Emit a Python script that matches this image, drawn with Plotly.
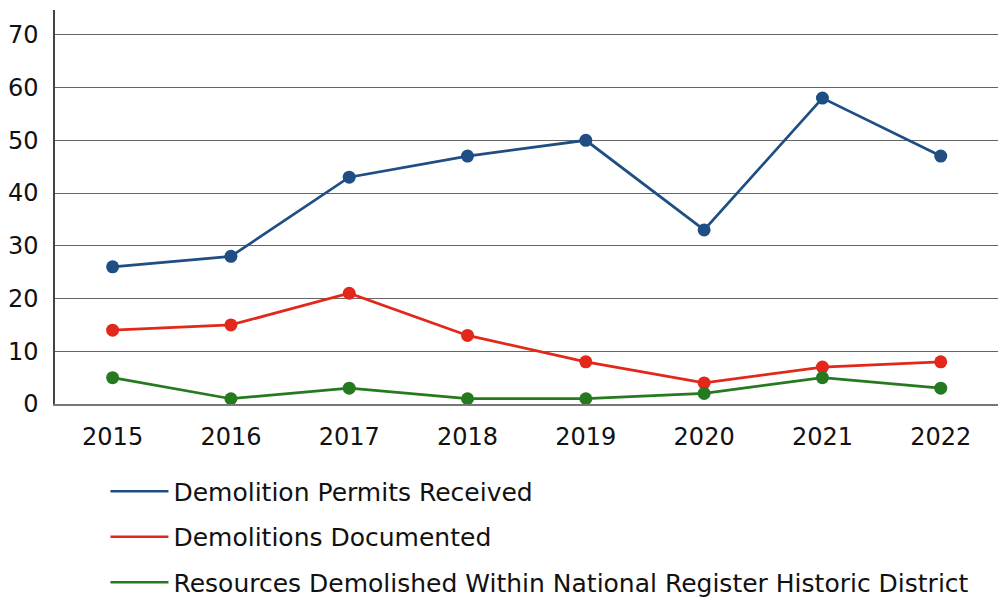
import plotly.graph_objects as go

years = ["2015", "2016", "2017", "2018", "2019", "2020", "2021", "2022"]
permits = [26, 28, 43, 47, 50, 33, 58, 47]
documented = [14, 15, 21, 13, 8, 4, 7, 8]
historic = [5, 1, 3, 1, 1, 2, 5, 3]

series = [
    ("Demolition Permits Received", permits, "#1F4E84"),
    ("Demolitions Documented", documented, "#E2271B"),
    ("Resources Demolished Within National Register Historic District", historic, "#25791E"),
]

FONT = "DejaVu Sans, Noto Sans, sans-serif"

fig = go.Figure()
for i, (name, vals, col) in enumerate(series):
    fig.add_trace(go.Scatter(
        x=years, y=vals, name=name, mode="lines+markers",
        line=dict(color=col, width=2.75),
        marker=dict(color=col, size=13),
        showlegend=False,
    ))
for i, (name, vals, col) in enumerate(series):
    fig.add_trace(go.Scatter(
        x=[None], y=[None], name=name, mode="lines",
        line=dict(color=col, width=2.5),
        legendgroup=str(i), showlegend=True,
    ))

fig.update_layout(
    width=998, height=599,
    margin=dict(l=55, r=0, t=10, b=195, autoexpand=False),
    paper_bgcolor="white", plot_bgcolor="white",
    font=dict(family=FONT, size=22, color="#111111"),
    showlegend=True,
    legend=dict(
        orientation="v", x=0.0535, xanchor="left",
        yref="container", y=0.218, yanchor="top",
        tracegroupgap=10, itemwidth=58, font=dict(size=25, family=FONT),
    ),
    xaxis=dict(
        showgrid=False, showline=True, linecolor="#777777", linewidth=1.5,
        ticks="", tickfont=dict(size=24), range=[-0.487, 7.484],
        automargin=False, ticklabelstandoff=10,
    ),
    yaxis=dict(
        range=[0, 74.7], tickvals=[0, 10, 20, 30, 40, 50, 60, 70],
        showgrid=True, gridcolor="#666666", gridwidth=1.2,
        showline=True, linecolor="#444444", linewidth=1.5,
        zeroline=False, ticks="", tickfont=dict(size=24),
        automargin=False, ticklabelstandoff=10,
    ),
)

fig.write_html(
    "out.html",
    config={"displayModeBar": False},
    post_script="document.body.style.margin='0';document.body.style.overflow='hidden';",
)
